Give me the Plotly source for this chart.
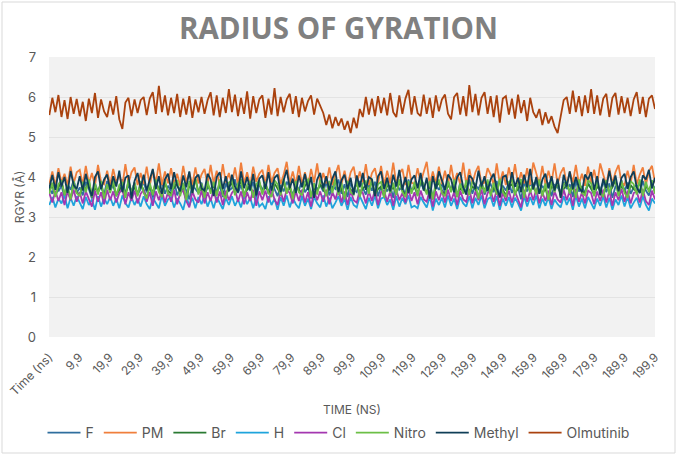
import numpy as np
import plotly.graph_objects as go

N = 200
time_ns = list(np.round(np.linspace(0.0, 199.9, N), 2))

tick_vals = [-0.1] + [9.9 + 10 * k for k in range(20)]
tick_text = ["Time (ns)"] + [f"{v:.1f}".replace(".", ",") for v in tick_vals[1:]]

F = [3.72,3.58,3.86,3.64,3.78,3.50,3.82,3.68,3.92,3.60,
3.74,3.54,3.88,3.70,3.46,3.84,3.62,3.76,3.56,3.90,
3.66,3.80,3.52,3.74,3.94,3.60,3.78,3.64,3.86,3.56,
3.70,3.88,3.62,3.76,3.48,3.82,3.68,3.90,3.58,3.78,
3.64,3.92,3.54,3.72,3.84,3.66,3.44,3.80,3.70,3.60,
3.86,3.56,3.74,3.68,3.90,3.62,3.78,3.50,3.84,3.66,
3.72,3.94,3.60,3.80,3.54,3.76,3.66,3.88,3.48,3.82,
3.68,3.84,3.58,3.90,3.70,3.52,3.80,3.64,3.88,3.74,
3.56,3.78,3.66,3.92,3.62,3.74,3.46,3.84,3.68,3.80,
3.64,3.88,3.54,3.76,3.70,3.94,3.58,3.82,3.50,3.86,
3.68,3.62,3.90,3.72,3.56,3.84,3.66,3.88,3.52,3.76,
3.82,3.64,3.78,3.48,3.92,3.68,3.74,3.58,3.94,3.66,
3.76,3.54,3.86,3.70,3.62,3.88,3.46,3.80,3.68,3.84,
3.60,3.90,3.66,3.78,3.50,3.86,3.72,3.64,3.94,3.58,
3.80,3.70,3.88,3.56,3.76,3.82,3.62,3.90,3.48,3.78,
3.66,3.86,3.60,3.80,3.74,3.44,3.88,3.64,3.84,3.70,
3.92,3.58,3.78,3.66,3.86,3.52,3.80,3.74,3.62,3.88,
3.70,3.82,3.50,3.90,3.64,3.76,3.60,3.86,3.72,3.56,
3.78,3.68,3.88,3.62,3.84,3.48,3.76,3.70,3.92,3.64,
3.86,3.58,3.74,3.80,3.60,3.90,3.66,3.54,3.82,3.72]

PM = [3.82,4.14,3.78,4.22,3.86,4.08,3.80,4.26,3.84,4.12,
4.18,3.80,4.28,3.84,4.10,3.78,4.30,3.88,3.82,4.16,
3.80,4.20,3.86,4.06,3.78,4.32,3.84,4.12,4.24,3.80,
4.10,3.82,4.26,3.78,4.18,3.86,4.34,3.80,4.14,3.84,
4.22,3.82,4.08,3.78,4.28,3.86,4.12,3.80,4.24,3.84,
4.06,4.20,3.80,4.30,3.84,4.16,3.78,4.32,3.86,4.10,
3.82,4.24,3.80,4.36,3.84,4.12,3.78,4.26,3.88,4.08,
4.18,3.80,4.30,3.86,4.10,4.22,3.82,4.06,4.38,3.84,
4.14,3.80,4.28,3.82,4.12,3.78,4.20,3.86,4.34,3.80,
4.10,3.84,4.24,3.80,4.06,4.30,3.82,4.16,3.78,4.12,
4.26,3.82,4.14,3.86,4.32,3.80,4.10,4.22,3.84,4.28,
3.80,4.16,3.84,4.36,3.82,4.08,4.20,3.80,4.30,3.86,
3.82,4.22,3.86,4.12,4.38,3.80,4.14,3.84,4.26,3.82,
4.16,3.80,4.30,3.86,4.10,3.82,4.36,3.80,4.20,3.84,
4.12,4.28,3.82,3.86,4.22,4.06,3.80,4.34,3.84,4.14,
3.80,4.24,3.86,4.32,3.82,4.12,3.84,4.22,3.80,4.36,
4.08,3.82,4.28,3.80,4.16,3.86,4.34,3.82,4.10,4.24,
3.80,4.14,3.86,4.30,3.82,4.08,3.78,4.26,3.84,4.18,
3.82,4.34,4.06,3.80,4.22,3.84,4.12,4.30,3.86,3.80,
4.16,3.84,4.30,3.82,4.06,4.24,3.80,4.14,4.28,3.86]

Br = [3.66,3.80,3.52,3.74,3.88,3.58,3.70,3.44,3.84,3.62,
3.56,3.78,3.68,3.92,3.50,3.72,3.64,3.86,3.48,3.76,
3.70,3.84,3.56,3.66,3.80,3.52,3.90,3.62,3.74,3.58,
3.82,3.68,3.46,3.78,3.60,3.88,3.70,3.54,3.84,3.66,
3.58,3.74,3.86,3.60,3.72,3.40,3.80,3.68,3.96,3.62,
3.70,3.52,3.82,3.66,3.78,3.56,3.88,3.64,3.48,3.76,
3.84,3.60,3.72,3.90,3.54,3.68,3.80,3.50,3.70,3.86,
3.62,3.76,3.66,3.52,3.84,3.70,3.58,3.90,3.64,3.74,
3.46,3.80,3.68,3.60,3.78,3.88,3.52,3.72,3.64,3.82,
3.70,3.56,3.80,3.66,3.92,3.58,3.74,3.42,3.80,3.68,
3.62,3.86,3.54,3.72,3.78,3.64,3.90,3.56,3.70,3.76,
3.50,3.82,3.66,3.74,3.60,3.88,3.68,3.52,3.80,3.64,
3.76,3.58,3.92,3.70,3.62,3.78,3.44,3.74,3.86,3.66,
3.56,3.80,3.68,3.90,3.54,3.72,3.64,3.84,3.60,3.76,
3.70,3.48,3.78,3.66,3.88,3.58,3.74,3.62,3.92,3.68,
3.54,3.76,3.82,3.60,3.70,3.90,3.52,3.80,3.66,3.74,
3.62,3.88,3.58,3.72,3.44,3.78,3.68,3.84,3.56,3.70,
3.80,3.64,3.74,3.50,3.90,3.66,3.60,3.82,3.72,3.58,
3.76,3.68,3.54,3.86,3.62,3.74,3.92,3.56,3.78,3.66,
3.52,3.80,3.70,3.64,3.88,3.58,3.76,3.68,3.82,3.62]

H = [3.30,3.50,3.24,3.46,3.34,3.54,3.22,3.48,3.28,3.52,
3.36,3.20,3.50,3.30,3.44,3.18,3.52,3.26,3.48,3.32,
3.50,3.28,3.46,3.22,3.54,3.34,3.24,3.50,3.30,3.46,
3.26,3.52,3.32,3.20,3.48,3.36,3.22,3.54,3.28,3.44,
3.50,3.24,3.46,3.34,3.18,3.52,3.28,3.48,3.22,3.50,
3.32,3.54,3.26,3.46,3.22,3.50,3.36,3.20,3.48,3.30,
3.52,3.28,3.44,3.24,3.54,3.32,3.48,3.22,3.50,3.26,
3.34,3.20,3.52,3.30,3.46,3.18,3.50,3.28,3.54,3.24,
3.48,3.32,3.22,3.52,3.28,3.46,3.20,3.50,3.34,3.24,
3.54,3.26,3.48,3.22,3.36,3.52,3.28,3.46,3.18,3.50,
3.30,3.24,3.52,3.34,3.20,3.48,3.28,3.54,3.22,3.46,
3.50,3.30,3.44,3.18,3.52,3.26,3.48,3.32,3.54,3.24,
3.28,3.22,3.50,3.36,3.24,3.52,3.16,3.46,3.30,3.48,
3.24,3.54,3.28,3.46,3.20,3.50,3.34,3.26,3.52,3.22,
3.48,3.30,3.54,3.22,3.44,3.50,3.26,3.52,3.18,3.46,
3.28,3.50,3.24,3.48,3.34,3.16,3.52,3.26,3.50,3.30,
3.54,3.22,3.46,3.28,3.50,3.20,3.44,3.32,3.24,3.52,
3.30,3.48,3.18,3.54,3.26,3.46,3.22,3.50,3.36,3.20,
3.46,3.28,3.52,3.24,3.48,3.18,3.44,3.30,3.54,3.26,
3.50,3.22,3.36,3.48,3.24,3.52,3.30,3.16,3.46,3.34]

Cl = [3.60,3.36,3.66,3.40,3.62,3.30,3.64,3.42,3.68,3.38,
3.62,3.34,3.64,3.44,3.26,3.66,3.38,3.62,3.32,3.68,
3.42,3.64,3.36,3.60,3.70,3.32,3.62,3.40,3.66,3.34,
3.58,3.68,3.38,3.62,3.28,3.64,3.42,3.66,3.36,3.62,
3.38,3.68,3.32,3.60,3.66,3.40,3.24,3.64,3.44,3.36,
3.66,3.34,3.62,3.40,3.68,3.36,3.64,3.30,3.66,3.42,
3.60,3.70,3.38,3.64,3.32,3.62,3.40,3.68,3.28,3.64,
3.42,3.66,3.36,3.70,3.44,3.30,3.64,3.38,3.68,3.60,
3.34,3.64,3.40,3.68,3.36,3.62,3.26,3.66,3.42,3.64,
3.38,3.68,3.32,3.62,3.44,3.70,3.36,3.64,3.30,3.66,
3.42,3.36,3.68,3.60,3.34,3.64,3.40,3.68,3.30,3.62,
3.66,3.38,3.64,3.28,3.68,3.42,3.60,3.36,3.70,3.40,
3.62,3.32,3.66,3.44,3.38,3.68,3.26,3.64,3.42,3.66,
3.36,3.68,3.40,3.62,3.30,3.66,3.44,3.38,3.70,3.34,
3.64,3.42,3.68,3.32,3.60,3.66,3.38,3.68,3.28,3.62,
3.40,3.66,3.36,3.64,3.44,3.24,3.68,3.38,3.66,3.42,
3.70,3.34,3.62,3.40,3.66,3.30,3.64,3.44,3.36,3.68,
3.42,3.66,3.28,3.70,3.38,3.62,3.34,3.66,3.60,3.32,
3.64,3.40,3.68,3.36,3.66,3.28,3.62,3.42,3.70,3.38,
3.66,3.34,3.60,3.64,3.36,3.68,3.40,3.30,3.66,3.44]

Nitro = [3.58,3.86,3.50,3.82,3.92,3.54,3.80,3.44,3.90,3.60,
3.52,3.88,3.62,3.94,3.50,3.84,3.56,3.90,3.46,3.82,
3.60,3.92,3.52,3.80,3.88,3.48,3.94,3.58,3.86,3.52,
3.90,3.60,3.46,3.86,3.54,3.94,3.62,3.50,3.92,3.58,
3.54,3.84,3.92,3.52,3.86,3.42,3.90,3.60,3.96,3.56,
3.84,3.48,3.90,3.58,3.88,3.52,3.94,3.56,3.46,3.86,
3.92,3.54,3.84,3.94,3.50,3.80,3.90,3.48,3.82,3.92,
3.56,3.88,3.60,3.50,3.92,3.82,3.54,3.96,3.58,3.86,
3.44,3.90,3.62,3.54,3.88,3.94,3.50,3.84,3.56,3.92,
3.82,3.52,3.90,3.60,3.96,3.54,3.86,3.44,3.90,3.62,
3.56,3.92,3.50,3.84,3.90,3.58,3.96,3.52,3.82,3.88,
3.48,3.92,3.60,3.86,3.54,3.94,3.62,3.50,3.90,3.58,
3.88,3.52,3.96,3.82,3.56,3.90,3.44,3.86,3.92,3.60,
3.52,3.90,3.62,3.94,3.50,3.84,3.58,3.92,3.54,3.88,
3.82,3.46,3.90,3.60,3.94,3.52,3.86,3.56,3.96,3.62,
3.50,3.88,3.92,3.54,3.84,3.94,3.48,3.90,3.60,3.86,
3.56,3.94,3.52,3.84,3.42,3.90,3.62,3.92,3.50,3.82,
3.90,3.58,3.86,3.48,3.94,3.60,3.54,3.92,3.84,3.52,
3.88,3.62,3.50,3.92,3.56,3.86,3.96,3.52,3.90,3.60,
3.48,3.90,3.82,3.56,3.94,3.52,3.88,3.62,3.92,3.58]

Methyl = [3.72,4.05,3.68,4.12,3.76,4.00,3.60,4.15,3.80,3.70,
4.02,3.66,4.08,3.74,3.52,4.00,4.14,3.70,3.94,4.06,
3.68,4.02,3.76,4.16,3.62,3.98,4.04,3.46,3.90,4.10,
3.72,4.06,3.66,3.96,4.20,3.70,4.02,3.58,3.94,4.08,
3.70,4.12,3.78,3.64,4.04,3.74,4.14,3.60,3.98,4.06,
3.72,3.66,4.08,3.94,3.52,4.00,4.12,3.70,4.02,3.64,
4.06,3.76,3.62,4.14,3.72,4.00,3.68,4.08,3.54,3.96,
4.04,3.70,4.12,3.66,3.98,4.06,3.62,3.92,4.18,3.72,
3.96,3.60,4.04,3.74,4.08,3.68,4.00,3.48,3.94,4.10,
3.72,4.02,3.66,3.96,4.14,3.62,3.92,4.06,3.70,3.98,
3.56,4.04,3.74,4.10,3.68,4.00,3.94,3.52,4.02,4.14,
3.70,3.98,3.64,4.06,3.76,4.18,3.68,4.00,3.60,3.94,
4.04,3.72,4.10,3.66,3.98,3.46,4.02,3.70,4.14,3.92,
3.68,4.06,3.94,3.62,4.00,4.12,3.74,3.56,4.04,3.96,
3.70,4.16,3.76,4.02,3.64,3.94,4.08,3.72,3.50,4.00,
4.04,3.68,4.12,3.76,3.98,3.62,4.06,3.74,4.20,3.70,
4.00,3.58,3.94,4.08,3.72,4.02,3.66,3.96,3.48,4.06,
3.76,4.14,3.70,4.00,3.74,3.62,4.06,3.94,4.12,3.68,
4.02,3.54,3.96,3.72,4.16,3.76,4.04,3.64,3.98,4.08,
3.70,4.00,4.14,3.74,3.60,4.04,3.94,4.18,3.72,3.98]

Olmutinib = [5.55,5.98,5.62,6.05,5.50,5.92,5.45,6.00,5.58,5.95,
5.52,5.88,5.40,5.96,5.60,6.10,5.48,5.94,5.64,5.50,
5.90,5.56,6.02,5.44,5.20,5.86,5.98,5.52,5.94,5.60,
5.92,6.00,5.55,5.96,6.12,5.58,6.28,5.62,6.04,5.54,
5.98,5.60,6.08,5.50,5.96,5.56,6.02,5.48,5.94,5.62,
6.00,5.58,5.92,6.12,5.54,6.04,5.50,5.98,5.60,6.20,
5.62,6.06,5.52,5.98,5.58,6.14,5.46,6.02,5.60,5.94,
6.04,5.48,5.96,5.56,6.22,5.52,6.00,5.62,5.94,6.08,
5.58,6.02,5.50,5.98,5.64,5.90,6.04,5.56,5.96,5.80,
5.60,5.30,5.56,5.22,5.50,5.28,5.46,5.18,5.40,5.10,
5.48,5.22,5.70,5.50,6.00,5.56,5.96,5.52,6.02,5.60,
5.98,5.54,6.10,5.62,5.50,6.04,5.58,5.96,6.18,5.56,
6.02,5.60,5.52,6.06,5.58,5.98,5.48,6.04,5.64,5.94,
6.06,5.58,5.44,6.00,6.10,5.56,6.02,5.52,6.30,5.62,
6.08,5.54,5.98,6.12,5.58,6.02,5.50,6.04,5.36,5.96,
6.02,5.56,5.96,5.46,6.06,5.60,5.92,5.40,5.98,5.62,
5.48,5.70,5.30,5.62,5.34,5.52,5.26,5.10,5.48,5.92,
6.00,5.58,6.16,5.62,6.02,5.52,6.04,5.60,6.20,5.58,
6.04,5.54,5.96,6.08,5.50,5.98,6.10,5.56,6.02,5.60,
5.98,5.52,5.94,6.12,5.58,6.00,5.50,5.96,6.04,5.70]

series = [
    ("F", F, "#2f6e9e"),
    ("PM", PM, "#f07f3c"),
    ("Br", Br, "#2a7a32"),
    ("H", H, "#1ea4dc"),
    ("Cl", Cl, "#a437b0"),
    ("Nitro", Nitro, "#6cbf46"),
    ("Methyl", Methyl, "#0f3e57"),
    ("Olmutinib", Olmutinib, "#aa420e"),
]

fig = go.Figure()
for name, vals, col in series:
    fig.add_trace(go.Scatter(x=time_ns, y=vals, name=name, mode="lines",
                             line=dict(color=col, width=1.8)))

W, H_PX = 677, 455
L, R, T, B = 49, 22, 57, 118
pw, ph = W - L - R, H_PX - T - B

fig.update_layout(
    width=W, height=H_PX,
    margin=dict(l=L, r=R, t=T, b=B, autoexpand=False),
    paper_bgcolor="white",
    plot_bgcolor="#f2f2f2",
    font=dict(family="Inter, Roboto, sans-serif", color="#595959", size=12),
    title=dict(text="RADIUS OF GYRATION", x=0.5, xref="container", xanchor="center",
               y=1 - 29 / H_PX, yanchor="middle",
               font=dict(family="Open Sans", size=29.5, color="#808080", weight="bold")),
    showlegend=True,
    legend=dict(orientation="h", x=0.5, xref="container", xanchor="center",
                y=(-(433 - (T + ph)) / ph),
                yanchor="middle", font=dict(size=14, color="#595959"),
                itemwidth=33, tracegroupgap=0, bgcolor="rgba(0,0,0,0)"),
    xaxis=dict(range=[-0.1, 199.9], tickmode="array", tickvals=tick_vals,
               ticktext=tick_text, tickangle=-45, showgrid=False, zeroline=False,
               showline=False, ticks="", ticklabelstandoff=10, automargin=False,
               tickfont=dict(size=12, color="#595959"),
               title=dict(text="TIME (NS)", font=dict(size=12, color="#595959"), standoff=8)),
    yaxis=dict(range=[0, 7], dtick=1, showgrid=True, gridcolor="#e3e3e3",
               zeroline=False, showline=False, ticks="", ticklabelstandoff=12,
               automargin=False,
               tickfont=dict(size=13, color="#595959"),
               title=dict(text="RGYR (Å)", font=dict(size=12, color="#595959"), standoff=0)),
)

fig.add_shape(type="rect", xref="paper", yref="paper",
              x0=(2 - L) / pw, x1=(W - 2 - L) / pw,
              y0=-(H_PX - 2 - (T + ph)) / ph, y1=(T + ph - 2) / ph,
              line=dict(color="#d9d9d9", width=1), fillcolor="rgba(0,0,0,0)", layer="below")

fig.write_html("out.html")
